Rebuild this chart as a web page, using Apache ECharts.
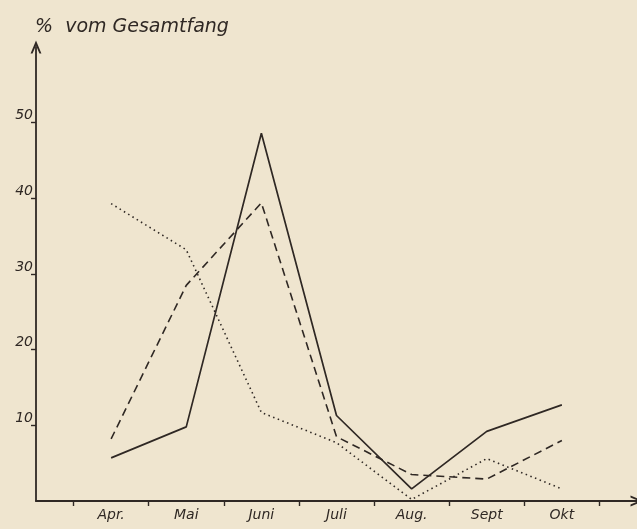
<!DOCTYPE html>
<html>
<head>
<meta charset="utf-8">
<script src="https://cdn.jsdelivr.net/npm/echarts@6/dist/echarts.min.js"></script>
<style>
  html, body { margin: 0; padding: 0; background: #efe5cf; }
  #chart { width: 637px; height: 529px; }
</style>
</head>
<body>
<div id="chart"></div>
<script>
// Monate (x-Achse, Position 1..7)
var months = ["Apr.", "Mai", "Juni", "Juli", "Aug.", "Sept", "Okt"];
// % vom Gesamtfang, drei Kurven
var solidVals = [5.7, 9.8, 48.6, 11.3, 1.6, 9.2, 12.7];
var dashedVals = [8.2, 28.5, 39.4, 8.5, 3.5, 2.9, 8.0];
var dottedVals = [39.3, 33.2, 11.7, 7.7, 0.2, 5.6, 1.6];
var yTicks = [10, 20, 30, 40, 50];

var ink = "#2f2824";
var arrow = "path://M0,12 L5,0 L10,12 L8.2,12 L5,4.5 L1.8,12 Z";

function pts(vals) {
  return vals.map(function (v, i) { return [i + 1, v]; });
}

var chart = echarts.init(document.getElementById("chart"));
var option = {
  backgroundColor: "#efe5cf",
  animation: false,
  title: {
    text: "%  vom Gesamtfang",
    left: 30,
    top: 13,
    textStyle: {
      fontFamily: "DejaVu Sans",
      fontStyle: "italic",
      fontWeight: "normal",
      fontSize: 19,
      color: ink
    }
  },
  grid: { left: 36, right: 0, top: 47, bottom: 28, containLabel: false },
  xAxis: {
    type: "value",
    min: 0,
    max: 8,
    splitLine: { show: false },
    axisLine: {
      lineStyle: { color: ink, width: 1.8 },
      symbol: ["none", arrow],
      symbolSize: [11, 13]
    },
    axisTick: {
      show: true,
      length: 5,
      lineStyle: { color: ink, width: 1.4 },
      customValues: [0.5, 1.5, 2.5, 3.5, 4.5, 5.5, 6.5, 7.5]
    },
    axisLabel: {
      customValues: [1, 2, 3, 4, 5, 6, 7],
      formatter: function (v) { return months[Math.round(v) - 1] || ""; },
      fontFamily: "DejaVu Sans",
      fontStyle: "italic",
      fontSize: 14,
      color: ink,
      margin: 7
    }
  },
  yAxis: {
    type: "value",
    min: 0,
    max: 60,
    splitLine: { show: false },
    axisLine: {
      lineStyle: { color: ink, width: 1.8 },
      symbol: ["none", arrow],
      symbolSize: [11, 13]
    },
    axisTick: {
      show: true,
      length: 5,
      lineStyle: { color: ink, width: 1.4 },
      customValues: yTicks
    },
    axisLabel: {
      customValues: yTicks,
      fontFamily: "DejaVu Sans",
      fontStyle: "italic",
      fontSize: 14,
      color: ink,
      margin: 3,
      verticalAlign: "bottom"
    }
  },
  series: [
    {
      type: "line",
      data: pts(solidVals),
      symbol: "none",
      lineStyle: { color: ink, width: 1.7, type: "solid" }
    },
    {
      type: "line",
      data: pts(dashedVals),
      symbol: "none",
      lineStyle: { color: ink, width: 1.6, type: [8, 5] }
    },
    {
      type: "line",
      data: pts(dottedVals),
      symbol: "none",
      lineStyle: { color: ink, width: 1.6, type: [1.5, 3.5] }
    }
  ]
};
chart.setOption(option);
</script>
</body>
</html>
